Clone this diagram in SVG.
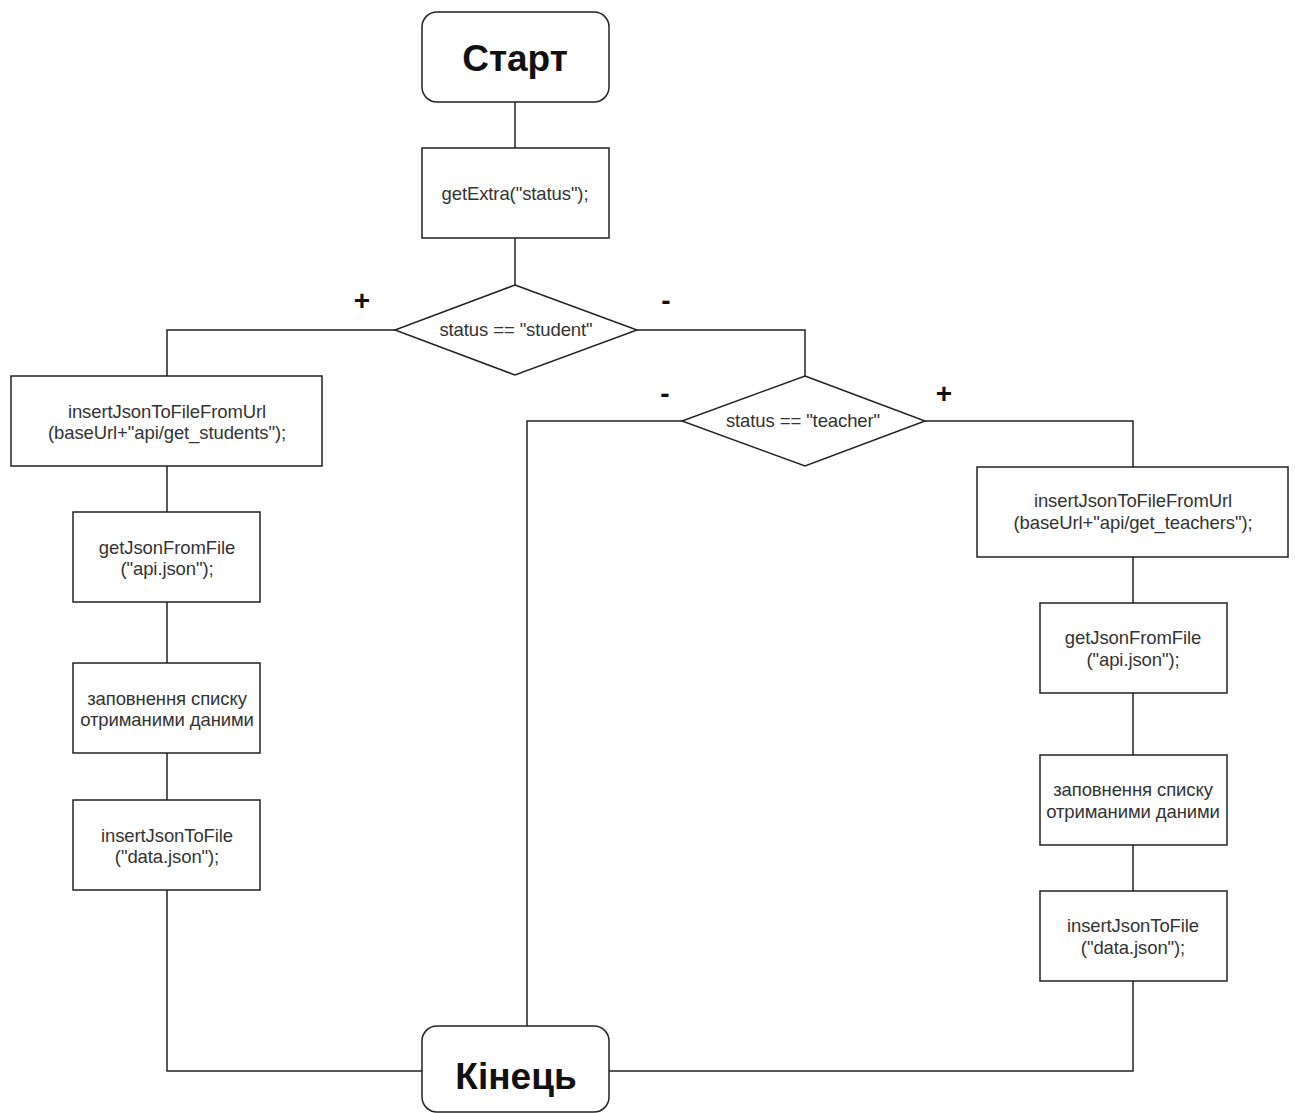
<svg xmlns="http://www.w3.org/2000/svg" width="1295" height="1113" viewBox="0 0 1295 1113">
<style>
.box{fill:#fff;stroke:#222;stroke-width:1.5}
.t{font-family:"Liberation Sans",Arial,sans-serif;font-size:18.5px;fill:#333;text-anchor:middle;letter-spacing:-0.1px}
.big{font-family:"Liberation Sans",Arial,sans-serif;font-size:37px;font-weight:bold;fill:#111;text-anchor:middle}
.sign{font-family:"Liberation Sans",Arial,sans-serif;font-size:28px;font-weight:bold;fill:#111;text-anchor:middle}
.c{fill:none;stroke:#222;stroke-width:1.5}
</style>
<rect width="1295" height="1113" fill="#fff"/>
<g id="connectors">
<path class="c" d="M515,102V148"/>
<path class="c" d="M515,238V285"/>
<path class="c" d="M395,330H167V376"/>
<path class="c" d="M637,330H805V376"/>
<path class="c" d="M167,466V512"/>
<path class="c" d="M167,602V663"/>
<path class="c" d="M167,753V800"/>
<path class="c" d="M167,890V1071H422"/>
<path class="c" d="M682,421H527V1026"/>
<path class="c" d="M925,421H1133V467"/>
<path class="c" d="M1133,557V603"/>
<path class="c" d="M1133,693V755"/>
<path class="c" d="M1133,845V891"/>
<path class="c" d="M1133,981V1071H609"/>
</g>
<g id="labels">
<text class="sign" x="362" y="310">+</text>
<text class="sign" x="666" y="310">-</text>
<text class="sign" x="665" y="403">-</text>
<text class="sign" x="944" y="403">+</text>
</g>
<g id="start"><rect class="box" x="422" y="12" width="187" height="90" rx="15"/><text class="big" x="515" y="71">Старт</text></g>
<g id="getExtra"><rect class="box" x="422" y="148" width="187" height="90"/><text class="t" x="515" y="200">getExtra("status");</text></g>
<g id="dec_student"><polygon class="box" points="515,285 637,330 515,375 395,330"/><text class="t" x="516" y="336">status == "student"</text></g>
<g id="dec_teacher"><polygon class="box" points="805,376 925,421 805,466 682,421"/><text class="t" x="803" y="427">status == "teacher"</text></g>
<g id="s_insertUrl"><rect class="box" x="11" y="376" width="311" height="90"/><text class="t" x="167" y="418">insertJsonToFileFromUrl</text><text class="t" x="167" y="439">(baseUrl+"api/get_students");</text></g>
<g id="s_getJson"><rect class="box" x="73" y="512" width="187" height="90"/><text class="t" x="167" y="554">getJsonFromFile</text><text class="t" x="167" y="575">("api.json");</text></g>
<g id="s_fill"><rect class="box" x="73" y="663" width="187" height="90"/><text class="t" x="167" y="705">заповнення списку</text><text class="t" x="167" y="726">отриманими даними</text></g>
<g id="s_insert"><rect class="box" x="73" y="800" width="187" height="90"/><text class="t" x="167" y="842">insertJsonToFile</text><text class="t" x="167" y="863">("data.json");</text></g>
<g id="t_insertUrl"><rect class="box" x="977" y="467" width="311" height="90"/><text class="t" x="1133" y="507">insertJsonToFileFromUrl</text><text class="t" x="1133" y="529">(baseUrl+"api/get_teachers");</text></g>
<g id="t_getJson"><rect class="box" x="1040" y="603" width="187" height="90"/><text class="t" x="1133" y="644">getJsonFromFile</text><text class="t" x="1133" y="666">("api.json");</text></g>
<g id="t_fill"><rect class="box" x="1040" y="755" width="187" height="90"/><text class="t" x="1133" y="796">заповнення списку</text><text class="t" x="1133" y="818">отриманими даними</text></g>
<g id="t_insert"><rect class="box" x="1040" y="891" width="187" height="90"/><text class="t" x="1133" y="932">insertJsonToFile</text><text class="t" x="1133" y="954">("data.json");</text></g>
<g id="end"><rect class="box" x="422" y="1026" width="187" height="86" rx="15"/><text class="big" x="516" y="1089">Кінець</text></g>
</svg>
